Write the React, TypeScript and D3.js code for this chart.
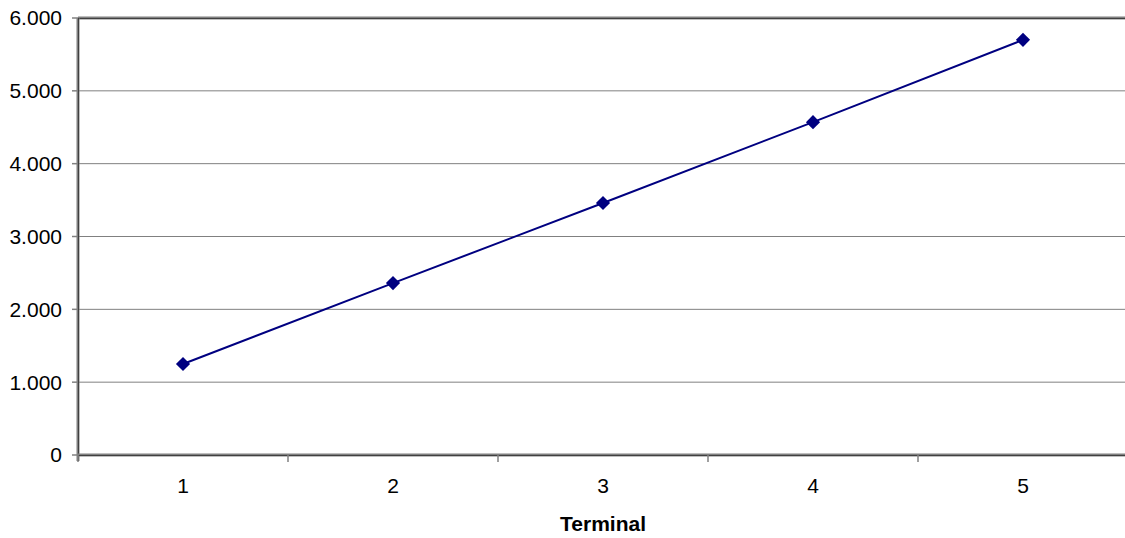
import * as React from "react";
import { useEffect, useRef } from "react";
import { select, scaleBand, scaleLinear, line, symbol, symbolSquare, range } from "d3";

// Terminal counts
const terminals = ["1", "2", "3", "4", "5"];
const values = [1250, 2360, 3460, 4570, 5700];
const yTicks = [0, 1000, 2000, 3000, 4000, 5000, 6000];

const W = 1125;
const H = 538;
const left = 78;
const right = 1128;
const top = 18;
const bottom = 455;
const font = "Liberation Sans, Arial, sans-serif";

const fmt = (v: number) =>
  v === 0 ? "0" : `${Math.floor(v / 1000)}.${String(v % 1000).padStart(3, "0")}`;

function App() {
  const svgRef = useRef<SVGSVGElement>(null);

  useEffect(() => {
    const svg = select(svgRef.current);
    svg.selectAll("*").remove();

    const x = scaleBand<string>().domain(terminals).range([left, right]);
    const y = scaleLinear().domain([0, 6000]).range([bottom, top]);
    const cx = (d: string) => (x(d) as number) + x.bandwidth() / 2;

    // gridlines
    svg
      .append("g")
      .selectAll("line")
      .data(yTicks.filter((t) => t > 0 && t < 6000))
      .join("line")
      .attr("x1", left)
      .attr("x2", right)
      .attr("y1", (d) => y(d))
      .attr("y2", (d) => y(d))
      .attr("stroke", "#808080")
      .attr("stroke-width", 1);

    // top border
    svg
      .append("line")
      .attr("x1", left)
      .attr("x2", right)
      .attr("y1", y(6000))
      .attr("y2", y(6000))
      .attr("stroke", "#808080")
      .attr("stroke-width", 3);
    svg
      .append("line")
      .attr("x1", left)
      .attr("x2", right)
      .attr("y1", y(6000) + 0.5)
      .attr("y2", y(6000) + 0.5)
      .attr("stroke", "#404040")
      .attr("stroke-width", 1);

    // y axis
    const yAxis = svg.append("g");
    yAxis
      .append("line")
      .attr("x1", left)
      .attr("x2", left)
      .attr("y1", top)
      .attr("y2", bottom + 6)
      .attr("stroke", "#808080")
      .attr("stroke-width", 3);
    yAxis
      .append("line")
      .attr("x1", left + 0.5)
      .attr("x2", left + 0.5)
      .attr("y1", top)
      .attr("y2", bottom + 6)
      .attr("stroke", "#404040")
      .attr("stroke-width", 1);
    yAxis
      .selectAll(".tick")
      .data(yTicks)
      .join("line")
      .attr("x1", left - 6)
      .attr("x2", left)
      .attr("y1", (d) => y(d))
      .attr("y2", (d) => y(d))
      .attr("stroke", "#808080")
      .attr("stroke-width", 1.5);
    yAxis
      .selectAll("text")
      .data(yTicks)
      .join("text")
      .attr("x", left - 16)
      .attr("y", (d) => y(d))
      .attr("dy", "0.35em")
      .attr("text-anchor", "end")
      .attr("font-family", font)
      .attr("font-size", 21)
      .attr("fill", "#000")
      .text((d) => fmt(d));

    // x axis
    const xAxis = svg.append("g");
    xAxis
      .append("line")
      .attr("x1", left)
      .attr("x2", right)
      .attr("y1", bottom)
      .attr("y2", bottom)
      .attr("stroke", "#808080")
      .attr("stroke-width", 3);
    xAxis
      .append("line")
      .attr("x1", left)
      .attr("x2", right)
      .attr("y1", bottom + 0.5)
      .attr("y2", bottom + 0.5)
      .attr("stroke", "#404040")
      .attr("stroke-width", 1);
    xAxis
      .selectAll(".tick")
      .data(range(terminals.length + 1))
      .join("line")
      .attr("x1", (i) => left + i * x.bandwidth())
      .attr("x2", (i) => left + i * x.bandwidth())
      .attr("y1", bottom)
      .attr("y2", bottom + 7)
      .attr("stroke", "#808080")
      .attr("stroke-width", 1.5);
    xAxis
      .selectAll("text")
      .data(terminals)
      .join("text")
      .attr("x", (d) => cx(d))
      .attr("y", 493)
      .attr("text-anchor", "middle")
      .attr("font-family", font)
      .attr("font-size", 21)
      .attr("fill", "#000")
      .text((d) => d);

    svg
      .append("text")
      .attr("x", (left + right) / 2)
      .attr("y", 531)
      .attr("text-anchor", "middle")
      .attr("font-family", font)
      .attr("font-size", 21)
      .attr("font-weight", "bold")
      .attr("fill", "#000")
      .text("Terminal");

    // series line
    const path = line<number>()
      .x((_, i) => cx(terminals[i]))
      .y((v) => y(v));
    svg
      .append("path")
      .attr("d", path(values))
      .attr("fill", "none")
      .attr("stroke", "#000080")
      .attr("stroke-width", 2);

    svg
      .append("g")
      .selectAll("path")
      .data(values)
      .join("path")
      .attr("d", symbol().type(symbolSquare).size(100)())
      .attr("transform", (v, i) => `translate(${cx(terminals[i])},${y(v)}) rotate(45)`)
      .attr("fill", "#000080");
  }, []);

  return (
    <svg
      ref={svgRef}
      width={W}
      height={H}
      style={{ position: "absolute", left: 0, top: 0, background: "#fff" }}
    />
  );
}

export default App;
